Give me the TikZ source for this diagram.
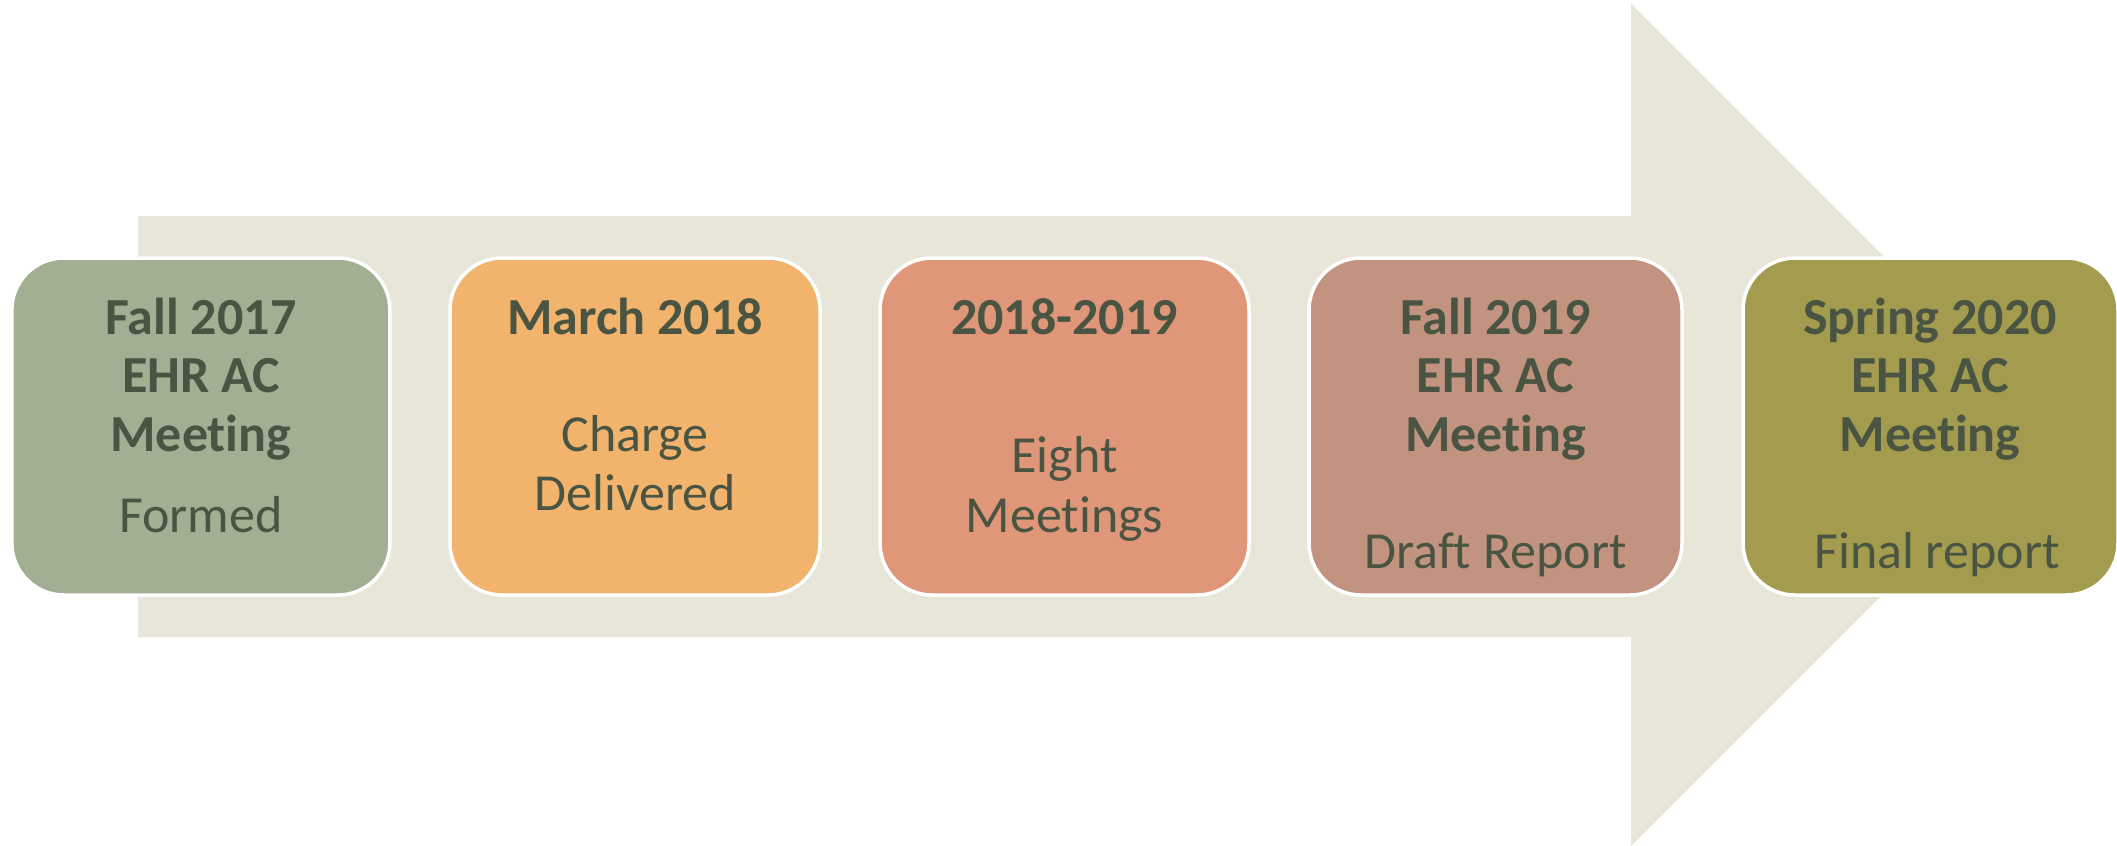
\documentclass[tikz,border=0pt]{standalone}
\usepackage{fontspec}
\setmainfont{Carlito}[Ligatures=NoCommon]
\definecolor{arrowfill}{HTML}{E8E6D8}
\definecolor{inkgreen}{HTML}{4A5442}
\definecolor{sage}{HTML}{A2AF92}
\definecolor{apricot}{HTML}{F2B46C}
\definecolor{salmon}{HTML}{E09678}
\definecolor{rosewood}{HTML}{C29480}
\definecolor{olive}{HTML}{A39B4E}
\begin{document}
\begin{tikzpicture}[x=1bp,y=-1bp,
  stagebox/.style={draw=white, line width=3.5bp, rounded corners=52bp,
    minimum height=337bp, inner sep=0pt},
  titleline/.style={anchor=base, text=inkgreen, inner sep=0pt,
    font=\fontsize{52bp}{58bp}\selectfont\bfseries},
  subline/.style={anchor=base, text=inkgreen, inner sep=0pt,
    font=\fontsize{52bp}{58bp}\selectfont}]
\useasboundingbox (0,0) rectangle (2117,846);

% background arrow
\fill[arrowfill] (138,216) -- (1631,216) -- (1631,4) -- (2052,425)
  -- (1631,846) -- (1631,637) -- (138,637) -- cycle;

% stage boxes
\node[stagebox, fill=sage,     minimum width=378bp] (b1) at (200.9,426.5) {};
\node[stagebox, fill=apricot,  minimum width=370bp] (b2) at (635,426.5) {};
\node[stagebox, fill=salmon,   minimum width=369bp] (b3) at (1064.5,426.5) {};
\node[stagebox, fill=rosewood, minimum width=373bp] (b4) at (1495.5,426.5) {};
\node[stagebox, fill=olive,    minimum width=375bp] (b5) at (1930.5,426.5) {};

% Fall 2017
\node[titleline] (b1a) at (200.9,334.3) {Fall 2017};
\node[titleline] (b1b) at (200.9,392.7) {EHR AC};
\node[titleline] (b1c) at (200.9,451) {Meeting};
\node[subline]   (b1d) at (200.9,532.7) {Formed};

% March 2018
\node[titleline] (b2a) at (635,334.3) {March 2018};
\node[subline]   (b2b) at (635,451) {Charge};
\node[subline]   (b2c) at (635,510) {Delivered};

% 2018-2019
\node[titleline] (b3a) at (1064.5,334.3) {2018-2019};
\node[subline]   (b3b) at (1064.5,472.7) {Eight};
\node[subline]   (b3c) at (1064.5,532.7) {Meetings};

% Fall 2019
\node[titleline] (b4a) at (1495.5,334.3) {Fall 2019};
\node[titleline] (b4b) at (1495.5,392.7) {EHR AC};
\node[titleline] (b4c) at (1495.5,451) {Meeting};
\node[subline]   (b4d) at (1495.5,568.3) {Draft Report};

% Spring 2020
\node[titleline] (b5a) at (1930,334.3) {Spring 2020};
\node[titleline] (b5b) at (1930,392.7) {EHR AC};
\node[titleline] (b5c) at (1930,451) {Meeting};
\node[subline]   (b5d) at (1937,568.3) {Final report};
\end{tikzpicture}
\end{document}
